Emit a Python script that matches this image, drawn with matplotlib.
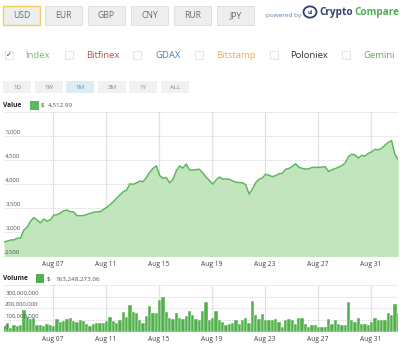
import matplotlib
matplotlib.use('Agg')
import matplotlib.pyplot as plt
import matplotlib.dates as mdates
from matplotlib.patches import Rectangle, Circle
import pandas as pd

plt.rcParams['font.family'] = ['Open Sans', 'DejaVu Sans']

W, H = 400, 345

# ---- data ----
currencies = ['USD', 'EUR', 'GBP', 'CNY', 'RUR', 'JPY']
exchanges = ['Index', 'Bitfinex', 'GDAX', 'Bitstamp', 'Poloniex', 'Gemini']
exchange_colors = ['#72bf6a', '#b9504c', '#4a7ebb', '#f4a85c', '#333333', '#6aa55a']
ranges = ['1D', '1W', '1M', '3M', '1Y', 'ALL']

# 6-hourly index price (USD)
price = [2800, 2820, 2842, 2845, 2877, 2880, 3050, 3110, 3230, 3310,
         3257, 3200, 3275, 3237, 3260, 3360, 3368, 3400, 3447, 3465,
         3430, 3425, 3350, 3345, 3352, 3372, 3395, 3418, 3427, 3430,
         3475, 3520, 3575, 3640, 3710, 3780, 3845, 3875, 4010, 3998,
         4028, 4065, 4055, 4140, 4250, 4330, 4380, 4180, 4122, 4140,
         4030, 4100, 4280, 4380, 4335, 4420, 4295, 4295, 4305, 4310,
         4235, 4150, 4080, 4000, 4087, 4150, 4108, 4108, 4104, 4072,
         4040, 4036, 4030, 3990, 3795, 3900, 4035, 4105, 4130, 4210,
         4185, 4158, 4178, 4215, 4228, 4310, 4328, 4368, 4425, 4355,
         4330, 4315, 4320, 4350, 4350, 4351, 4356, 4362, 4265, 4300,
         4325, 4355, 4385, 4440, 4575, 4625, 4605, 4545, 4600, 4585,
         4643, 4672, 4724, 4715, 4745, 4810, 4870, 4905, 4620, 4513]

# 6-hourly volume (millions USD)
volume_m = [45, 70, 30, 55, 50, 55, 188, 125, 110, 120,
            60, 60, 45, 62, 55, 48, 105, 82, 88, 105,
            112, 88, 80, 100, 92, 62, 45, 68, 72, 76,
            70, 93, 128, 93, 76, 99, 171, 128, 228, 171,
            157, 99, 70, 134, 220, 157, 163, 272, 295, 171,
            114, 105, 163, 114, 105, 134, 180, 142, 105, 95,
            175, 253, 95, 118, 175, 95, 81, 60, 66, 72,
            95, 66, 103, 118, 72, 261, 138, 109, 152, 95,
            103, 103, 109, 86, 43, 103, 109, 95, 66, 115,
            118, 66, 43, 52, 52, 43, 43, 43, 109, 66,
            95, 66, 52, 60, 253, 100, 81, 118, 66, 66,
            60, 81, 118, 95, 95, 103, 158, 146, 239, 163]

dates = pd.date_range('2017-08-03 08:00', periods=len(price), freq='6h')
date_ticks = pd.to_datetime(['2017-08-07', '2017-08-11', '2017-08-15', '2017-08-19',
                             '2017-08-23', '2017-08-27', '2017-08-31'])
price_ticks = [2500, 3000, 3500, 4000, 4500, 5000]
volume_ticks = [0, 100e6, 200e6, 300e6]
last_price = '4,512.99'
last_volume = '163,248,273.06'

LINE = '#5cb85c'
FILL = '#c2e5bd'
BAR = '#52b14c'


def rect(x0, y0, x1, y1):
    return [x0 / W, 1 - y1 / H, (x1 - x0) / W, (y1 - y0) / H]


def ftext(x, y, s, **kw):
    fig.text(x / W, 1 - y / H, s, **kw)


def fbox(x0, y0, x1, y1, fc, ec, lw=0.6):
    fig.patches.append(Rectangle((x0 / W, 1 - y1 / H), (x1 - x0) / W, (y1 - y0) / H,
                                 transform=fig.transFigure, fc=fc, ec=ec, lw=lw))


fig = plt.figure(figsize=(W / 100, H / 100), dpi=100)

# currency buttons
cur_x = [3, 45, 88, 131, 174, 217]
for i, (name, x0) in enumerate(zip(currencies, cur_x)):
    fbox(x0, 6, x0 + 37, 25, '#eceef0', '#f2cf5b' if i == 0 else '#dcdcdc',
         lw=1.0 if i == 0 else 0.6)
    ftext(x0 + 18.5, 16, name, ha='center', va='center', fontsize=6.2, color='#6b6b6b')

ftext(266, 15.5, 'powered by', ha='left', va='center', fontsize=4.6, color='#5a7fa8')
fig.patches.append(Circle((310 / W, 1 - 12 / H), 6.5 / W, transform=fig.transFigure,
                          fc='white', ec='#2e3f72', lw=1.3))
ftext(310, 12.5, 'ul', ha='center', va='center', fontsize=4, color='#2e3f72', weight='bold')
ftext(319, 12, 'Crypto', ha='left', va='center', fontsize=7.2, color='#2e3f72', weight='bold')
ftext(354, 12, 'Compare', ha='left', va='center', fontsize=7.2, color='#4cb050', weight='bold')

# exchange selector
cb_x = [5, 65, 133, 195, 270, 342]
lab_x = [25, 86, 155, 216, 290, 363]
for i, (name, col) in enumerate(zip(exchanges, exchange_colors)):
    fbox(cb_x[i], 51, cb_x[i] + 7.5, 59, 'white', '#d8d8d8', lw=0.5)
    if i == 0:
        ftext(cb_x[i] + 3.8, 55.5, '✓', ha='center', va='center', fontsize=5, color='#333333')
    ftext(lab_x[i], 55.5, name, ha='left', va='center', fontsize=6.8, color=col)

# range buttons
rng_x = [3, 35, 66, 98, 129, 161]
for i, (name, x0) in enumerate(zip(ranges, rng_x)):
    fbox(x0, 81, x0 + 28, 93, '#dcedf3' if i == 2 else '#f1f1f1', 'none', lw=0)
    ftext(x0 + 14, 87.5, name, ha='center', va='center', fontsize=4.4, color='#6d8fab')

# value header
ftext(3, 105.5, 'Value', ha='left', va='center', fontsize=4.8, color='#222222', weight='bold')
fbox(30, 101, 38.5, 110, LINE, 'none', lw=0)
ftext(41, 105.5, '$', ha='left', va='center', fontsize=4.5, color='#333333')
ftext(48, 105.5, last_price, ha='left', va='center', fontsize=4.5, color='#555555')

# main price chart
ax = fig.add_axes(rect(4, 112, 398.2, 256.5))
ax.fill_between(dates, price, 2500, color=FILL, lw=0)
ax.plot(dates, price, color=LINE, lw=1.1)
ax.set_xlim(dates[0], dates[-1])
ax.set_ylim(2500, 5500)
ax.set_yticks(price_ticks + [5500])
ax.set_yticklabels([])
ax.set_xticks(date_ticks)
ax.xaxis.set_major_formatter(mdates.DateFormatter('%b %d'))
ax.tick_params(length=0, pad=3.5, labelsize=4.8, labelcolor='#444444')
ax.grid(axis='x', color='#e3e3e3', lw=0.9)
ax.grid(axis='y', color='#d5d5d5', lw=0.7, linestyle=(0, (1, 1)))
ax.set_axisbelow(True)
for s in ax.spines.values():
    s.set_visible(False)
for v in price_ticks:
    ax.text(0.003, v + 35, f'{v:,}', transform=ax.get_yaxis_transform(),
            ha='left', va='bottom', fontsize=4.3, color='#555555')

# volume header
ftext(3, 279, 'Volume', ha='left', va='center', fontsize=4.8, color='#222222', weight='bold')
fbox(35.5, 274, 44, 283, BAR, 'none', lw=0)
ftext(47, 279, '$', ha='left', va='center', fontsize=4.5, color='#333333')
ftext(55, 279, last_volume, ha='left', va='center', fontsize=4.5, color='#555555')

# volume chart
vx = fig.add_axes(rect(4, 285, 398.2, 331.5))
vx.bar(dates, [v * 1e6 for v in volume_m], width=0.25, color=BAR,
       edgecolor='white', linewidth=0.3)
vx.set_xlim(dates[0], dates[-1])
vx.set_ylim(0, 400e6)
vx.set_yticks(volume_ticks + [400e6])
vx.set_yticklabels([])
vx.set_xticks(date_ticks)
vx.xaxis.set_major_formatter(mdates.DateFormatter('%b %d'))
vx.tick_params(length=0, pad=3.5, labelsize=4.8, labelcolor='#444444')
vx.grid(axis='x', color='#e3e3e3', lw=0.9)
vx.grid(axis='y', color='#d5d5d5', lw=0.7, linestyle=(0, (1, 1)))
vx.set_axisbelow(True)
for s in vx.spines.values():
    s.set_visible(False)
for v in volume_ticks:
    vx.text(0.003, v + 10e6, f'{int(v):,}', transform=vx.get_yaxis_transform(),
            ha='left', va='bottom', fontsize=4.3, color='#555555')

fig.savefig('out.png', dpi=100)
